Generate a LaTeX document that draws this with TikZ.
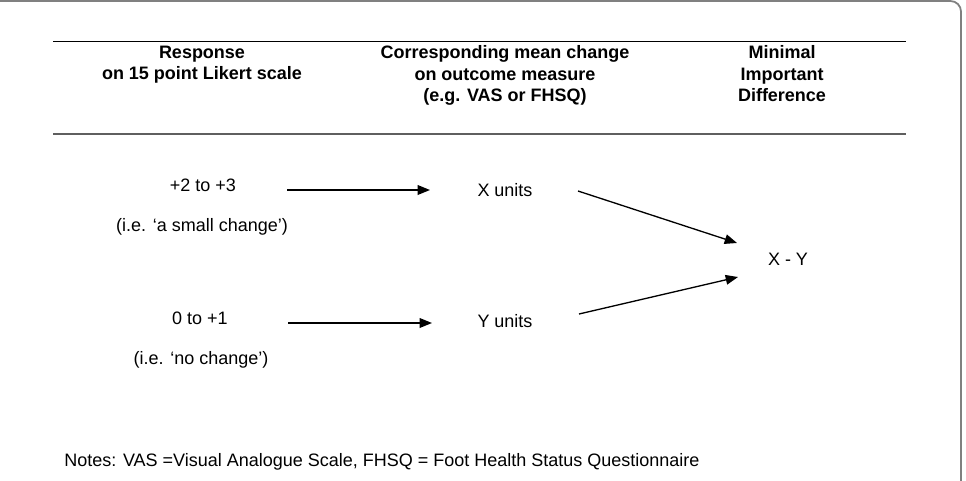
\documentclass[tikz,border=0pt]{standalone}
\usepackage{fontspec}
\setmainfont{Liberation Sans}
\usetikzlibrary{arrows.meta}
\definecolor{framegray}{RGB}{128,128,128}
\definecolor{rulegray}{RGB}{95,95,95}

\begin{document}
\begin{tikzpicture}[x=0.02cm,y=-0.02cm,>={Triangle[length=7pt,width=5.5pt]},
    every node/.style={inner sep=0pt,font=\fontsize{10.24}{12.23}\selectfont},
    head/.style={anchor=north,align=center,font=\fontsize{10.24}{12.23}\selectfont\bfseries},
    arr/.style={->,line width=0.75pt}]
    % Frame
    \useasboundingbox (0,0) rectangle (966,480);
    \draw[framegray,line width=1pt,rounded corners=6pt] (-12,1) rectangle (961,520);

    % Table rules
    \draw[line width=0.6pt] (53,41.5) -- (906,41.5);
    \draw[rulegray,line width=0.9pt] (53,134) -- (906,134);

    % Column headings
    \node[head] (resp) at (202,45.5) {Response\\on 15 point Likert scale};
    \node[head] (change) at (505,45.5) {Corresponding mean change\\on outcome measure\\(e.g. VAS or FHSQ)};
    \node[head] (mid) at (782,45.5) {Minimal\\Important\\Difference};

    % Likert responses
    \node[anchor=base] (small) at (203,191) {+2 to +3};
    \node[anchor=base] (smallnote) at (202,231) {(i.e. `a small change')};
    \node[anchor=base] (none) at (200,324) {0 to +1};
    \node[anchor=base] (nonenote) at (201,364) {(i.e. `no change')};

    % Mean changes
    \node[anchor=base] (xunits) at (505,196) {X units};
    \node[anchor=base] (yunits) at (505,327) {Y units};

    % MID
    \node[anchor=base] (diff) at (788,265) {X - Y};

    % Arrows
    \coordinate (smallR) at (287,190);
    \coordinate (xunitsL) at (430,190);
    \coordinate (noneR) at (288,323);
    \coordinate (yunitsL) at (432,323);
    \coordinate (xunitsR) at (578,191);
    \coordinate (yunitsR) at (579,314);
    \coordinate (diffUL) at (737,243);
    \coordinate (diffLL) at (738,277);
    \draw[arr] (smallR) -- (xunitsL);
    \draw[arr] (noneR) -- (yunitsL);
    \draw[arr] (xunitsR) -- (diffUL);
    \draw[arr] (yunitsR) -- (diffLL);

    % Notes
    \node[anchor=base west] (notes) at (64,466) {Notes: VAS =Visual Analogue Scale, FHSQ = Foot Health Status Questionnaire};
\end{tikzpicture}
\end{document}
